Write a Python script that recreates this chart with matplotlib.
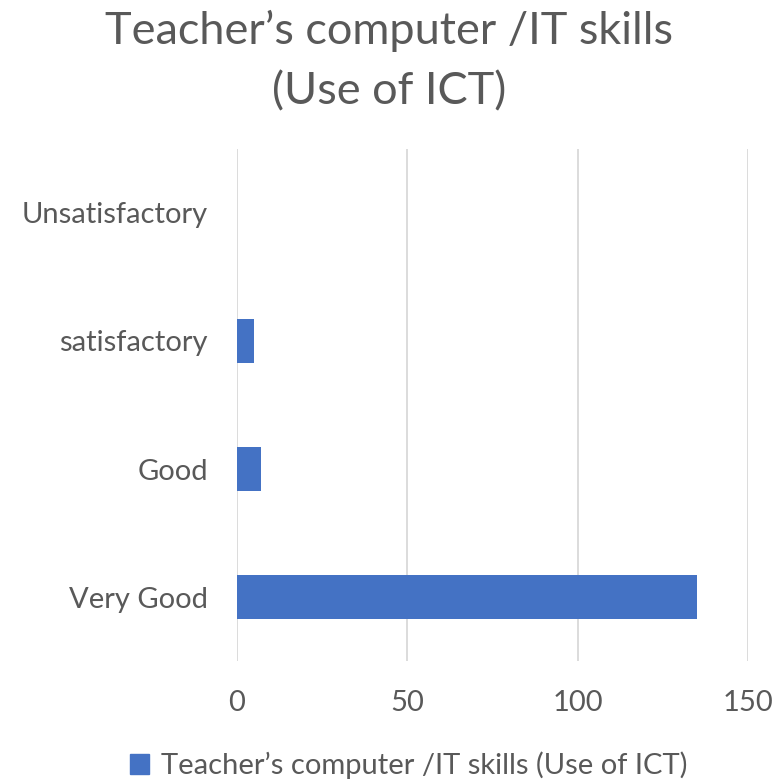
import matplotlib
matplotlib.use("Agg")
import matplotlib.pyplot as plt

plt.rcParams['font.family'] = ['Lato', 'DejaVu Sans']

categories = ['Very Good', 'Good', 'satisfactory', 'Unsatisfactory']
values = [135, 7, 5, 0]
xticks = [0, 50, 100, 150]
series_name = 'Teacher\u2019s computer /IT skills (Use of ICT)'
title = 'Teacher\u2019s computer /IT skills\n(Use of ICT)'

grey = '#595959'
blue = '#4472C4'

fig = plt.figure(figsize=(7.78, 7.82), dpi=100)
ax = fig.add_axes([0.3046, 0.1547, 0.6568, 0.6548])

ax.barh(range(len(categories)), values, height=0.345, color=blue, zorder=3)
ax.set_ylim(-0.5, len(categories) - 0.5)
ax.set_xlim(0, 150)
ax.set_xticks(xticks)
ax.set_yticks(range(len(categories)))
ax.set_yticklabels(categories)
ax.tick_params(axis='both', length=0, labelsize=21, colors=grey)
ax.tick_params(axis='y', pad=21)
ax.tick_params(axis='x', pad=21)
ax.grid(axis='x', color='#d9d9d9', linewidth=1.3, zorder=0)
for s in ax.spines.values():
    s.set_visible(False)

fig.text(0.5, 0.922, title, ha='center', va='center', fontsize=32.5,
         color=grey, linespacing=1.6)

ax.legend([plt.Rectangle((0, 0), 1, 1, color=blue)], [series_name],
          loc='center', bbox_to_anchor=(0.525, 0.021), bbox_transform=fig.transFigure,
          frameon=False, fontsize=21, labelcolor=grey, handlelength=0.65,
          handleheight=0.65, handletextpad=0.4)

plt.savefig('out.png', dpi=100)
